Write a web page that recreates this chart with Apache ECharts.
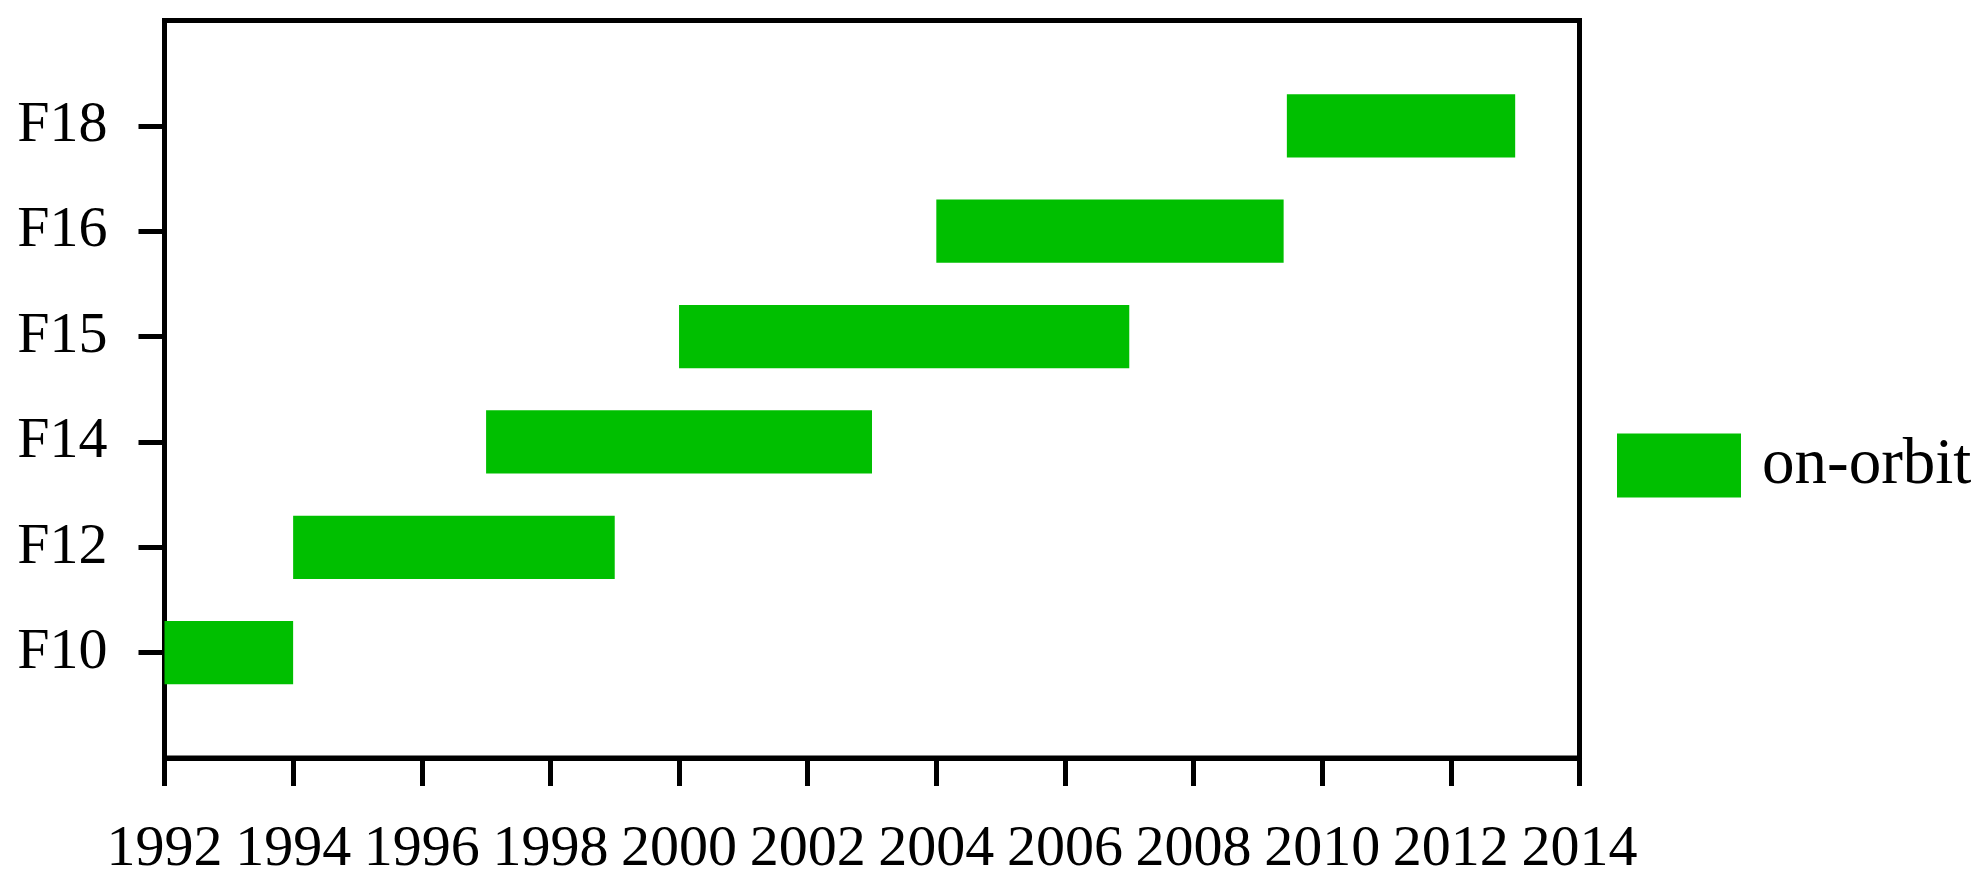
<!DOCTYPE html>
<html>
<head>
<meta charset="utf-8">
<script src="https://cdn.jsdelivr.net/npm/echarts@6/dist/echarts.min.js"></script>
<style>
html,body{margin:0;padding:0;background:#fff;}
#chart{width:1982px;height:892px;}
</style>
</head>
<body>
<div id="chart"></div>
<script>
var satellites = ['F10', 'F12', 'F14', 'F15', 'F16', 'F18'];
var startYear = [1992, 1994, 1997, 2000, 2004, 2009.45];
var endYear = [1994, 1999, 2003, 2007, 2009.4, 2013];
var rowPos = [1, 2, 3, 4, 5, 6];
var xTicks = [1992, 1994, 1996, 1998, 2000, 2002, 2004, 2006, 2008, 2010, 2012, 2014];
var seriesName = 'on-orbit';

var data = satellites.map(function (s, i) {
  return [startYear[i], endYear[i], rowPos[i], s];
});

var FONT = '"Liberation Serif", "Times New Roman", serif';
var GREEN = '#00bf00';

var chart = echarts.init(document.getElementById('chart'));
chart.setOption({
  animation: false,
  backgroundColor: '#fff',
  grid: {
    left: 164.5, right: 402.5, top: 20.5, bottom: 134,
    show: true, borderColor: '#000', borderWidth: 5, backgroundColor: 'transparent'
  },
  legend: {
    data: [{name: seriesName, icon: 'rect'}],
    left: 1617, top: 433,
    itemWidth: 124, itemHeight: 64, padding: 0,
    textStyle: {fontFamily: FONT, fontSize: 65, color: '#000', padding: [0, 0, 0, 16]}
  },
  xAxis: {
    type: 'value', min: xTicks[0], max: xTicks[xTicks.length - 1], interval: 2,
    axisLine: {show: true, lineStyle: {color: '#000', width: 5}},
    axisTick: {show: true, length: 28, lineStyle: {color: '#000', width: 5}},
    splitLine: {show: false},
    axisLabel: {
      fontFamily: FONT, fontSize: 58, color: '#000', margin: 63,
      formatter: function (v) { return String(v); }
    }
  },
  yAxis: {
    type: 'value', min: 0, max: 7, interval: 1,
    axisLine: {show: true, lineStyle: {color: '#000', width: 5}},
    axisTick: {show: true, length: 26, lineStyle: {color: '#000', width: 5}, customValues: rowPos},
    splitLine: {show: false},
    axisLabel: {
      fontFamily: FONT, fontSize: 58, color: '#000', margin: 57,
      customValues: rowPos,
      formatter: function (v) {
        var i = rowPos.indexOf(v);
        return i >= 0 ? satellites[i] : '';
      }
    }
  },
  series: [{
    name: seriesName,
    type: 'custom',
    itemStyle: {color: GREEN},
    encode: {x: [0, 1], y: 2},
    data: data,
    renderItem: function (params, api) {
      var y = api.value(2);
      var p0 = api.coord([api.value(0), y]);
      var p1 = api.coord([api.value(1), y]);
      var h = api.size([0, 0.6])[1];
      return {
        type: 'rect',
        shape: {x: p0[0], y: p0[1] - h / 2, width: p1[0] - p0[0], height: h},
        style: {fill: GREEN}
      };
    }
  }]
});
</script>
</body>
</html>
